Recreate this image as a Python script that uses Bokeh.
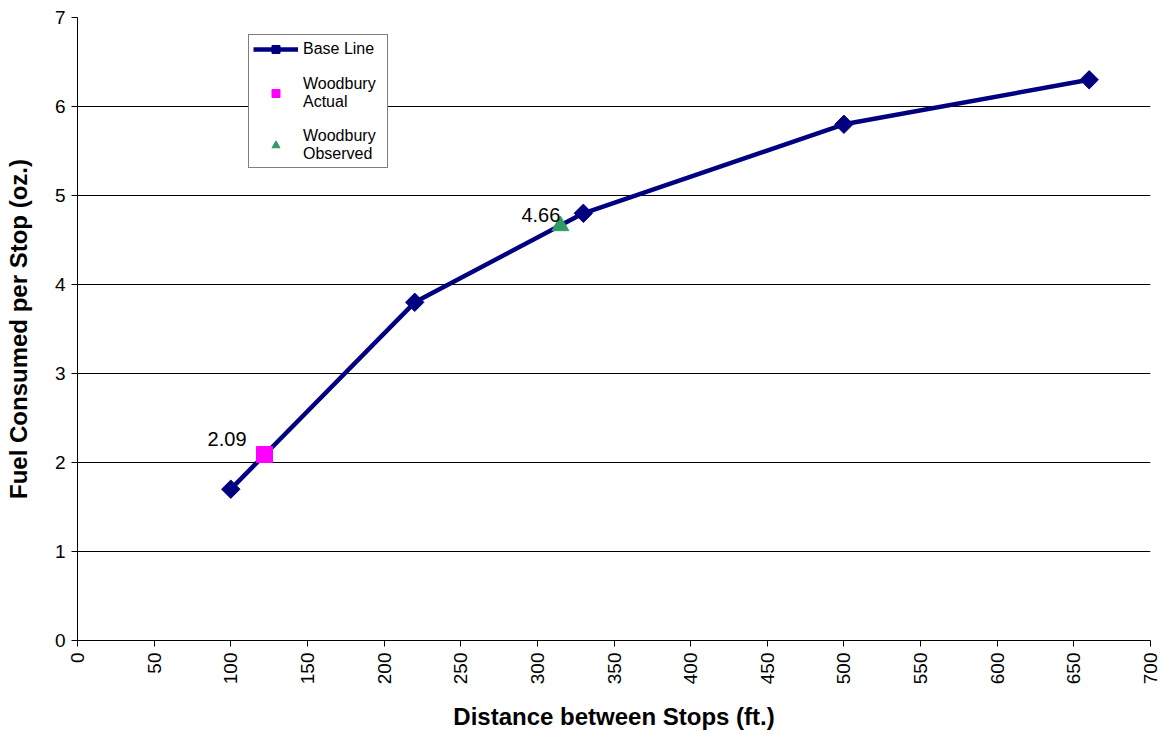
import math
from bokeh.plotting import figure
from bokeh.models import Legend, LegendItem, Range1d, LabelSet, ColumnDataSource, FixedTicker
from bokeh.core.properties import value
from bokeh.embed import file_html
from bokeh.resources import INLINE

base_x = [100, 220, 330, 500, 660]
base_y = [1.7, 3.8, 4.8, 5.8, 6.3]
actual_x = [122]
actual_y = [2.09]
observed_x = [315]
observed_y = [4.66]
x_ticks = list(range(0, 701, 50))
y_ticks = list(range(0, 8))

FONT = "Liberation Sans"

p = figure(width=1162, height=734, output_backend="svg", toolbar_location=None,
           x_range=Range1d(0, 700), y_range=Range1d(0, 7),
           min_border_left=77, min_border_right=12, min_border_top=17, min_border_bottom=94)
p.outline_line_color = None
p.xgrid.grid_line_color = None
p.ygrid.grid_line_color = "black"
p.ygrid.grid_line_width = 1
p.ygrid.ticker = FixedTicker(ticks=y_ticks)

p.xaxis.ticker = FixedTicker(ticks=x_ticks)
p.yaxis.ticker = FixedTicker(ticks=y_ticks)
for ax in (p.xaxis[0], p.yaxis[0]):
    ax.axis_line_color = "black"
    ax.major_tick_line_color = "black"
    ax.major_tick_in = 0
    ax.major_tick_out = 6
    ax.minor_tick_line_color = None
    ax.major_label_text_font = FONT
    ax.major_label_text_font_size = "19px"
    ax.major_label_text_color = "black"
    ax.axis_label_text_font = FONT
    ax.axis_label_text_font_style = "bold"
    ax.axis_label_text_color = "black"
p.xaxis.major_label_orientation = math.pi / 2
p.xaxis.major_label_standoff = 6
p.yaxis.major_label_standoff = 6
p.xaxis.axis_label = "Distance between Stops (ft.)"
p.xaxis.axis_label_text_font_size = "24px"
p.xaxis.axis_label_standoff = 16
p.yaxis.axis_label = "Fuel Consumed per Stop (oz.)"
p.yaxis.axis_label_text_font_size = "24px"
p.yaxis.axis_label_standoff = 20

navy = "#000080"
l1 = p.line(base_x, base_y, line_color=navy, line_width=4.5)
m1 = p.scatter(base_x, base_y, marker="square", angle=math.pi / 4, size=13,
               fill_color=navy, line_color=navy)
m2 = p.scatter(actual_x, actual_y, marker="square", size=16, fill_color="#FF00FF", line_color="#FF00FF")
m3 = p.scatter(observed_x, observed_y, marker="triangle", size=17, fill_color="#339966", line_color="#339966")

src1 = ColumnDataSource(dict(x=actual_x, y=actual_y, t=["%.2f" % v for v in actual_y]))
src2 = ColumnDataSource(dict(x=observed_x, y=observed_y, t=["%.2f" % v for v in observed_y]))
p.add_layout(LabelSet(x="x", y="y", text="t", source=src1, x_offset=-18, y_offset=8,
                      text_align="right", text_baseline="bottom", text_font=value(FONT),
                      text_font_size=value("20px"), text_color="black"))
p.add_layout(LabelSet(x="x", y="y", text="t", source=src2, x_offset=0, y_offset=4,
                      text_align="right", text_baseline="bottom", text_font=value(FONT),
                      text_font_size=value("20px"), text_color="black"))

legend = Legend(items=[
    LegendItem(label="Base Line", renderers=[l1, m1]),
    LegendItem(label="Woodbury\nActual", renderers=[m2]),
    LegendItem(label="Woodbury\nObserved", renderers=[m3]),
], location=(171, 472))
legend.label_text_font = FONT
legend.label_text_font_size = "16px"
legend.label_text_color = "black"
legend.label_text_line_height = 1.25
legend.label_standoff = 5
legend.label_width = 80
legend.border_line_color = "black"
legend.border_line_width = 1
legend.background_fill_color = "white"
legend.background_fill_alpha = 1
legend.padding = 4
legend.spacing = 16
legend.glyph_width = 45
p.add_layout(legend)

open("out.html", "w").write(file_html(p, INLINE))
